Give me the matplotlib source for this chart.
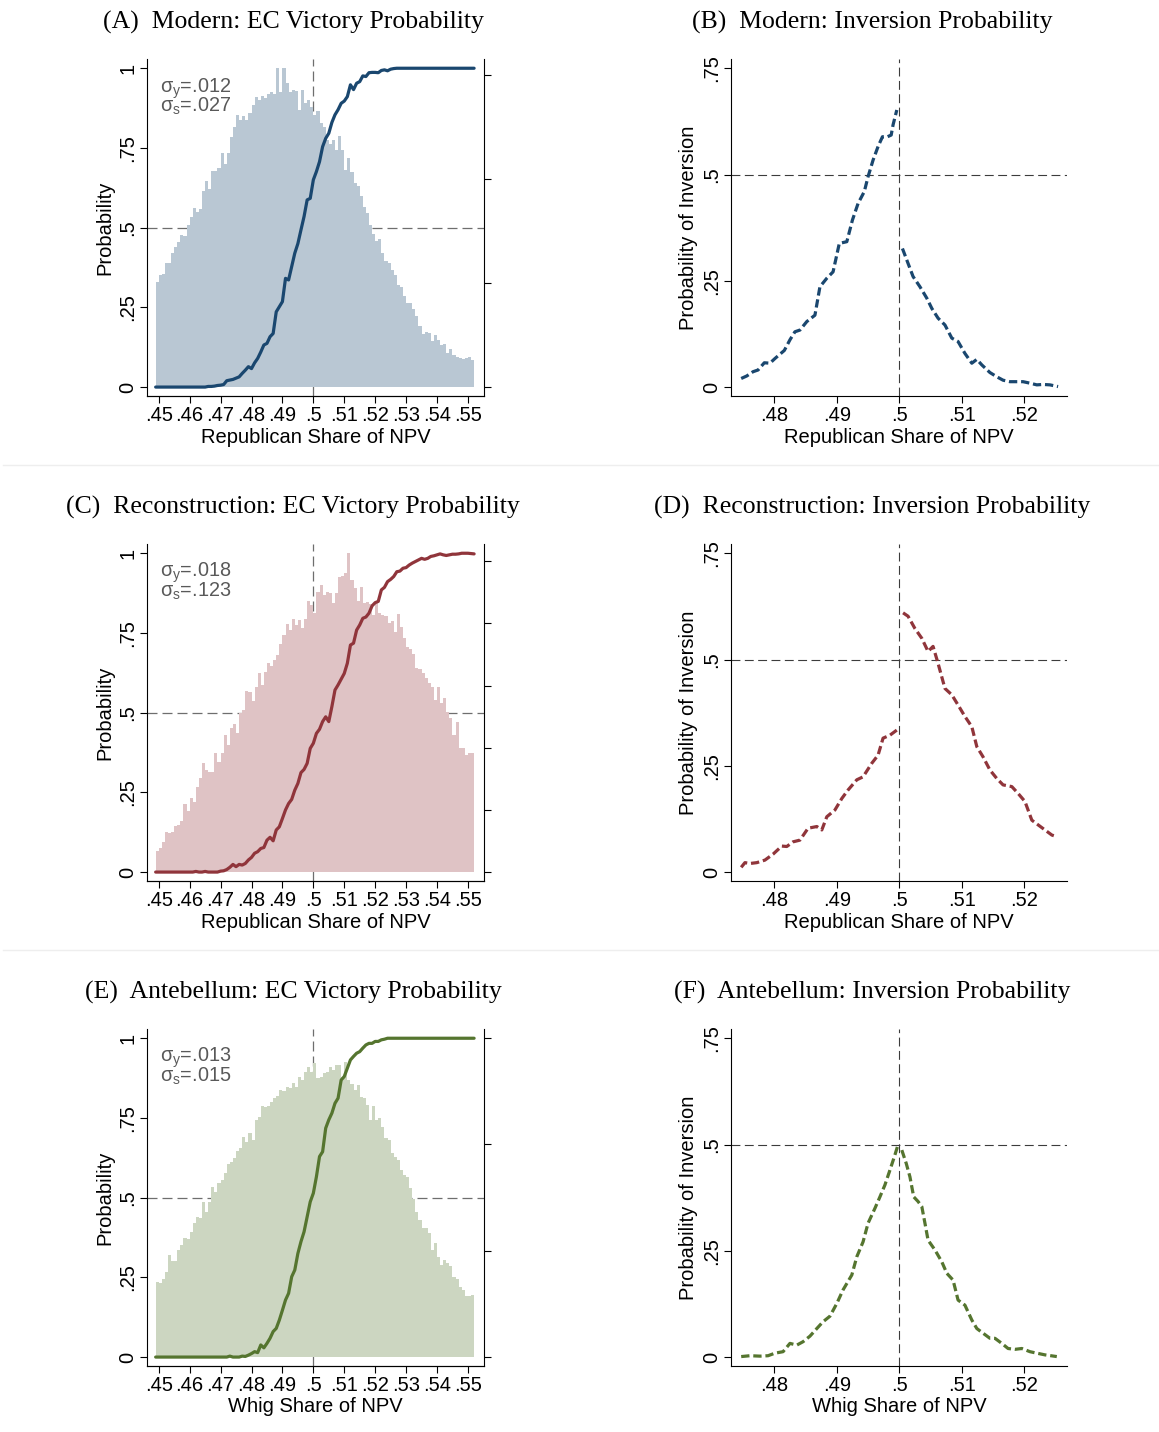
import numpy as np
import matplotlib
matplotlib.use("Agg")
import matplotlib.pyplot as plt
from matplotlib.lines import Line2D

W, H, DPI = 1159, 1432, 100

# ---------------------------------------------------------------- data
# Histogram of simulated national popular vote shares (bins of width .001
# starting at .449), scaled to the probability axis.
BIN_START = 0.449
BIN_WIDTH = 0.001

modern_hist = [
    .33, .35, .354, .39, .39, .42, .44, .455, .477, .474,
    .507, .535, .563, .55, .558, .615, .646, .62, .678, .678,
    .688, .735, .70, .733, .785, .815, .853, .838, .85, .838,
    .86, .885, .909, .90, .913, .906, .92, .927, .92, 1.0,
    .927, 1.0, .955, .924, .932, .93, .87, .932, .892, .90,
    .88, .853, .866, .827, .815, .775, .763, .775, .744, .786,
    .744, .68, .718, .676, .64, .63, .60, .566, .545, .507,
    .48, .458, .463, .42, .395, .39, .367, .35, .32, .315,
    .286, .265, .263, .244, .223, .19, .168, .174, .17, .144,
    .163, .147, .132, .135, .108, .12, .10, .095, .09, .087,
    .09, .093, .085]

recon_hist = [
    .067, .074, .095, .127, .122, .127, .144, .147, .161, .215,
    .191, .231, .22, .268, .294, .341, .32, .315, .315, .372,
    .346, .372, .43, .40, .451, .463, .437, .50, .508, .568,
    .566, .538, .582, .623, .587, .629, .657, .646, .665, .681,
    .715, .744, .777, .759, .793, .775, .791, .765, .793, .85,
    .838, .814, .88, .90, .869, .88, .875, .845, .875, .927,
    .929, .937, 1.0, .916, .89, .85, .895, .843, .847, .84,
    .806, .847, .812, .806, .803, .78, .786, .754, .81, .77,
    .733, .707, .70, .684, .639, .636, .623, .608, .594, .582,
    .54, .582, .531, .545, .503, .482, .43, .472, .388, .388,
    .367, .372, .374]

ante_hist = [
    .236, .231, .244, .268, .32, .30, .30, .336, .351, .372,
    .369, .393, .42, .438, .435, .487, .456, .487, .535, .519,
    .545, .555, .576, .606, .613, .624, .647, .655, .691, .676,
    .704, .681, .744, .754, .786, .783, .788, .801, .812, .819,
    .838, .833, .848, .843, .861, .848, .88, .869, .895, .911,
    .895, .922, .874, .878, .89, .895, .911, .90, .916, .916,
    .88, .924, .869, .857, .838, .854, .817, .812, .791, .744,
    .786, .744, .749, .723, .686, .68, .639, .629, .618, .587,
    .571, .566, .529, .495, .456, .43, .404, .404, .388, .336,
    .357, .315, .289, .304, .294, .286, .252, .244, .221, .21,
    .191, .191, .195]

# Electoral College victory probability at vote shares .449, .450, ..., .552
CURVE_START = 0.449
CURVE_STEP = 0.001

modern_ec = [
    0, 0, 0, 0, 0, 0, 0, 0, 0, 0, 0, 0, 0, 0, 0, 0, 0,
    .002, .002, .003, .005, .006, .008, .020, .022, .024, .028,
    .032, .043, .053, .064, .058, .076, .090, .110, .132, .137,
    .158, .168, .236, .252, .268, .341, .336, .378, .420, .450,
    .493, .535, .587, .592, .650, .676, .707, .754, .780, .796,
    .830, .854, .870, .890, .897, .911, .948, .933, .953, .958,
    .976, .974, .986, .987, .987, .986, .993, .995, .992, .997,
    .999,
    1, 1, 1, 1, 1, 1, 1, 1, 1, 1, 1, 1, 1, 1, 1, 1, 1, 1, 1, 1,
    1, 1, 1, 1, 1, 1]

recon_ec = [
    0, 0, 0, 0, 0, 0, 0, 0, 0, 0, 0, 0, 0, .002, 0, 0, .002, 0, 0, 0, 0,
    .003, .004, .008, .015, .024, .017, .024, .022, .027, .038,
    .046, .059, .064, .074, .077, .100, .109, .098, .132, .142,
    .168, .195, .215, .228, .257, .278, .312, .322, .341, .388,
    .404, .435, .448, .472, .487, .472, .519, .571, .587, .605,
    .623, .655, .712, .718, .759, .775, .796, .800, .812, .835,
    .845, .849, .885, .893, .911, .918, .927, .942, .944, .953,
    .955, .963, .969, .974, .979, .984, .981, .984, .990, .992,
    .995, .998, .995, .993, .995, .997, .997, .998, 1.0, 1.0,
    1.0, .999, .998]

ante_ec = [
    0, 0, 0, 0, 0, 0, 0, 0, 0, 0, 0, 0, 0, 0, 0, 0, 0, 0, 0, 0,
    0, 0, 0, 0, .003, 0, 0, 0,
    .003, .002, .006, .011, .017, .014, .038, .029, .043, .059,
    .080, .090, .116, .147, .179, .200, .252, .273, .325, .362,
    .393, .440, .487, .514, .566, .629, .644, .718, .744, .765,
    .796, .812, .869, .880, .906, .932, .943, .953, .958, .969,
    .979, .984, .984, .990, .990, .995, .997,
    1, 1, 1, 1, 1, 1, 1, 1, 1, 1, 1, 1, 1, 1, 1, 1, 1, 1, 1, 1,
    1, 1, 1, 1, 1, 1, 1, 1, 1]

# Probability of an inversion, below and above a 50% vote share
modern_inv_lo_x = [.4747, .4756, .4766, .4774, .4784, .4793, .4801, .4816,
                   .4825, .4833, .4841, .4852, .4865, .4873, .4884, .4894,
                   .4904, .4916, .4925, .4934, .4944, .4950, .4958, .4966,
                   .4973, .4981, .4987, .4990, .4996]
modern_inv_lo_y = [.020, .026, .036, .040, .057, .056, .067, .086, .111,
                   .130, .134, .154, .169, .236, .256, .271, .338, .342,
                   .393, .432, .460, .495, .534, .566, .589, .589, .593,
                   .617, .652]
modern_inv_hi_x = [.5005, .5014, .5022, .5033, .5044, .5052, .5062, .5073,
                   .5084, .5094, .5105, .5116, .5124, .5132, .5145, .5156,
                   .5166, .5177, .5188, .5198, .5209, .5220, .5230, .5241,
                   .5254]
modern_inv_hi_y = [.326, .291, .260, .236, .209, .185, .162, .146, .115,
                   .107, .079, .056, .065, .052, .034, .024, .016, .0125,
                   .0125, .0125, .009, .005, .006, .005, .001]

recon_inv_lo_x = [.4747, .4753, .4761, .4772, .4785, .4798, .4812, .4820,
                  .4830, .4841, .4854, .4868, .4876, .4884, .4897, .4908,
                  .4918, .4932, .4942, .4956, .4966, .4974, .4985, .4996]
recon_inv_lo_y = [.011, .022, .020, .022, .028, .042, .061, .060, .071,
                  .075, .103, .107, .099, .130, .146, .173, .193, .217,
                  .224, .256, .275, .315, .322, .334]
recon_inv_hi_x = [.5006, .5014, .5025, .5036, .5046, .5054, .5062, .5073,
                  .5084, .5094, .5105, .5116, .5124, .5134, .5145, .5156,
                  .5166, .5180, .5190, .5201, .5212, .5222, .5233, .5244,
                  .5252]
recon_inv_hi_y = [.610, .602, .573, .550, .519, .531, .491, .432, .417,
                  .393, .366, .342, .295, .271, .240, .220, .205, .201,
                  .185, .166, .122, .111, .099, .087, .083]

ante_inv_lo_x = [.4747, .4761, .4777, .4790, .4801, .4814, .4825, .4836,
                 .4846, .4857, .4868, .4878, .4889, .4900, .4910, .4924,
                 .4932, .4942, .4950, .4961, .4969, .4977, .4985, .4992,
                 .4997]
ante_inv_lo_y = [.001, .003, .002, .003, .009, .0125, .032, .028, .036,
                 .049, .067, .083, .096, .126, .158, .193, .236, .271,
                 .315, .350, .377, .405, .440, .471, .495]
ante_inv_hi_x = [.5004, .5011, .5017, .5023, .5030, .5036, .5041, .5046,
                 .5057, .5068, .5076, .5086, .5094, .5105, .5116, .5124,
                 .5134, .5145, .5153, .5164, .5174, .5185, .5196, .5209,
                 .5220, .5233, .5252]
ante_inv_hi_y = [.487, .456, .424, .377, .366, .354, .315, .275, .252,
                 .224, .197, .181, .134, .122, .087, .067, .056, .044,
                 .044, .032, .020, .018, .020, .0125, .009, .005, .001]

ec_xticks = [.45, .46, .47, .48, .49, .50, .51, .52, .53, .54, .55]
ec_xticklabels = [".45", ".46", ".47", ".48", ".49", ".5", ".51", ".52",
                  ".53", ".54", ".55"]
inv_xticks = [.48, .49, .50, .51, .52]
inv_xticklabels = [".48", ".49", ".5", ".51", ".52"]

# ---------------------------------------------------------------- style
plt.rcParams.update({
    "font.family": ["Liberation Sans", "DejaVu Sans"],
    "mathtext.fontset": "custom",
    "mathtext.rm": "Liberation Sans",
    "mathtext.it": "Liberation Sans:italic",
    "axes.linewidth": 0.8,
    "xtick.major.width": 0.8,
    "ytick.major.width": 0.8,
    "xtick.major.size": 5,
    "ytick.major.size": 5,
    "xtick.labelsize": 14.5,
    "ytick.labelsize": 14.5,
})

TICK_FS = 14.5
TITLE_FONT = dict(family=["Liberation Serif", "DejaVu Serif"], size=18.5)

fig = plt.figure(figsize=(W / DPI, H / DPI), dpi=DPI)
fig.patch.set_facecolor("white")


def px_axes(left, top, right, bottom):
    return fig.add_axes([left / W, 1 - bottom / H,
                         (right - left) / W, (bottom - top) / H])


def fy(y):
    return 1 - y / H


def ec_panel(top, hist, curve, line_color, fill_color, sig_y, sig_s,
             right_ticks, title, xlabel):
    ax = px_axes(147, top, 484, top + 337)
    ref = dict(color="#6e6e6e", lw=0.9, ls=(0, (8, 4)), zorder=1)
    ax.axvline(0.5, **ref)
    ax.axhline(0.5, **ref)
    centers = BIN_START + BIN_WIDTH * (np.arange(len(hist)) + 0.5)
    ax.bar(centers, hist, width=BIN_WIDTH, color=fill_color, lw=0, zorder=2)
    xs = CURVE_START + CURVE_STEP * np.arange(len(curve))
    ax.plot(xs, curve, color=line_color, lw=2.3, zorder=3,
            solid_joinstyle="round", solid_capstyle="round")
    ax.set_xlim(0.4462, 0.5552)
    ax.set_ylim(-0.028, 1.029)
    ax.set_xticks(ec_xticks)
    ax.set_xticklabels(ec_xticklabels)
    ax.set_yticks([0, .25, .5, .75, 1])
    ax.set_yticklabels(["0", ".25", ".5", ".75", "1"], rotation=90,
                       va="center")
    ax.tick_params(axis="x", pad=2)
    ax.tick_params(axis="y", pad=2)
    ax.spines["top"].set_visible(False)
    ax.spines["right"].set_visible(False)
    ax.set_facecolor("none")

    tw = ax.twinx()
    tw.set_ylim(ax.get_ylim())
    tw.set_yticks(right_ticks)
    tw.set_yticklabels([])
    tw.spines["top"].set_visible(False)
    tw.spines["left"].set_visible(False)
    tw.tick_params(axis="y", length=5)

    sigma_text = (r"σ$_\mathregular{y}$=" + sig_y + "\n"
                  + r"σ$_\mathregular{s}$=" + sig_s)
    fig.text(160 / W, fy(top + 17), sigma_text, fontsize=14.3,
             color="#595959", va="top", ha="left", linespacing=0.72)

    fig.text(105 / W, fy(top + 168.5), "Probability", rotation=90,
             ha="center", va="center", fontsize=TICK_FS)
    fig.text(315.5 / W, fy(top + 378), xlabel, ha="center", va="center",
             fontsize=TICK_FS)
    fig.text(293 / W, fy(top - 30.5), title, ha="center", va="baseline",
             **TITLE_FONT)
    return ax


def inv_panel(top, lo_x, lo_y, hi_x, hi_y, line_color, title, xlabel):
    ax = px_axes(731, top, 1067, top + 337)
    ref = dict(color="#3c3c3c", lw=0.8, ls=(0, (8, 4)), zorder=1)
    ax.axvline(0.5, **ref)
    ax.axhline(0.5, **ref)
    dash = dict(color=line_color, lw=2.3, ls=(0, (2.6, 1.2)), zorder=3,
                dash_capstyle="butt")
    ax.plot(lo_x, lo_y, **dash)
    ax.plot(hi_x, hi_y, **dash)
    ax.set_xlim(0.47307, 0.52683)
    ax.set_ylim(-0.0212, 0.772)
    ax.set_xticks(inv_xticks)
    ax.set_xticklabels(inv_xticklabels)
    ax.set_yticks([0, .25, .5, .75])
    ax.set_yticklabels(["0", ".25", ".5", ".75"], rotation=90, va="center")
    ax.tick_params(axis="x", pad=2)
    ax.tick_params(axis="y", pad=2)
    ax.spines["top"].set_visible(False)
    ax.spines["right"].set_visible(False)

    fig.text(688 / W, fy(top + 168.5), "Probability of Inversion",
             rotation=90, ha="center", va="center", fontsize=TICK_FS)
    fig.text(899 / W, fy(top + 378), xlabel, ha="center", va="center",
             fontsize=TICK_FS)
    fig.text(872 / W, fy(top - 30.5), title, ha="center", va="baseline",
             **TITLE_FONT)
    return ax


ROW_TOPS = [59, 544, 1029]

ec_panel(ROW_TOPS[0], modern_hist, modern_ec, "#1a476f", "#b9c7d3",
         ".012", ".027", [0, .326, .652, .978],
         "(A)  Modern: EC Victory Probability", "Republican Share of NPV")
inv_panel(ROW_TOPS[0], modern_inv_lo_x, modern_inv_lo_y,
          modern_inv_hi_x, modern_inv_hi_y, "#1a476f",
          "(B)  Modern: Inversion Probability", "Republican Share of NPV")

ec_panel(ROW_TOPS[1], recon_hist, recon_ec, "#90353b", "#dfc3c5",
         ".018", ".123", [0, .195, .39, .585, .78, .976],
         "(C)  Reconstruction: EC Victory Probability",
         "Republican Share of NPV")
inv_panel(ROW_TOPS[1], recon_inv_lo_x, recon_inv_lo_y,
          recon_inv_hi_x, recon_inv_hi_y, "#90353b",
          "(D)  Reconstruction: Inversion Probability",
          "Republican Share of NPV")

ec_panel(ROW_TOPS[2], ante_hist, ante_ec, "#55752f", "#ccd6c1",
         ".013", ".015", [0, .333, .667, 1.0],
         "(E)  Antebellum: EC Victory Probability", "Whig Share of NPV")
inv_panel(ROW_TOPS[2], ante_inv_lo_x, ante_inv_lo_y,
          ante_inv_hi_x, ante_inv_hi_y, "#55752f",
          "(F)  Antebellum: Inversion Probability", "Whig Share of NPV")

# faint rules between the rows
for y in (465, 950):
    fig.add_artist(Line2D([3 / W, 1.0], [fy(y), fy(y)], color="#eeeeee",
                          lw=1.0, transform=fig.transFigure))

fig.savefig("out.png", dpi=DPI, facecolor="white")
